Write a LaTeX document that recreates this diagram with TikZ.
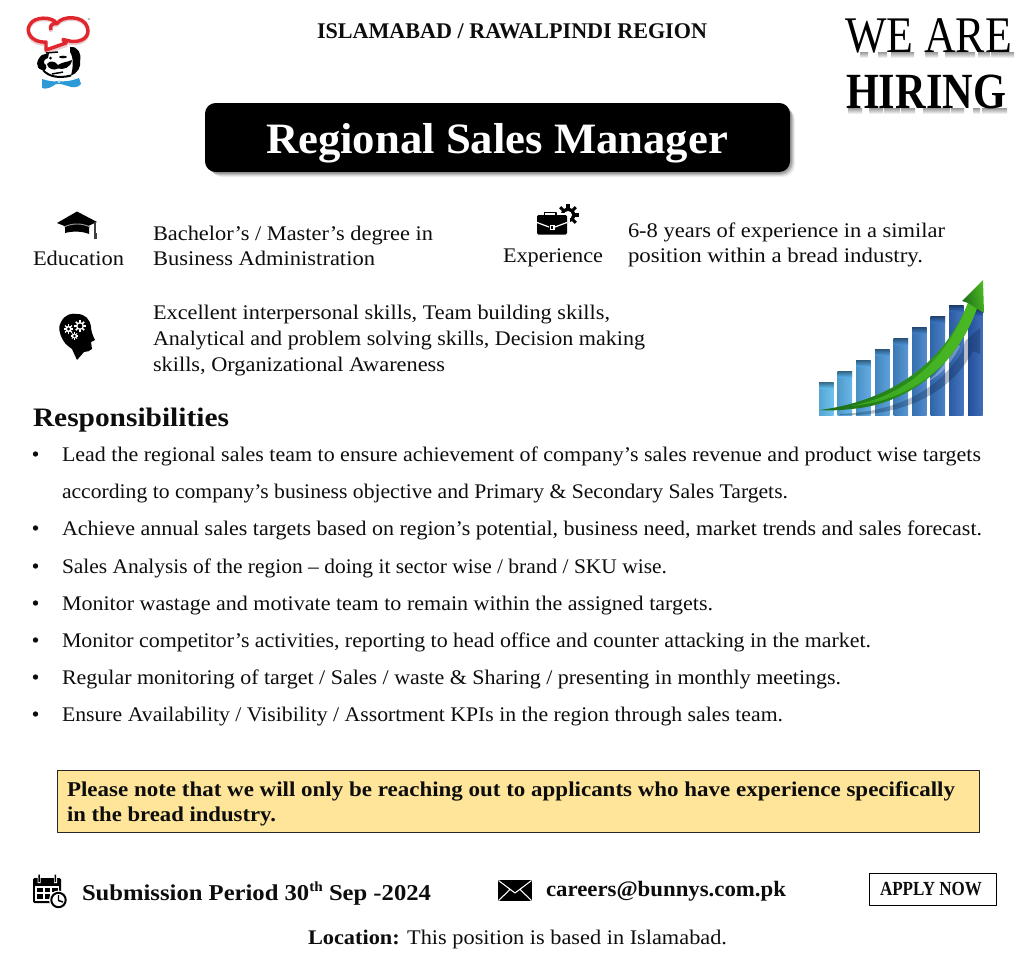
\documentclass[tikz,border=0pt]{standalone}
\usepackage{graphicx}
\usepackage{fontspec}
\setmainfont{Liberation Serif}
\newdimen\pxu \pxu=.75pt
\newcommand\fitw[2]{\resizebox{#1\pxu}{\height}{#2}}
\newcommand\pxfont[1]{\fontsize{#1}{#1}\selectfont}
\definecolor{noteFill}{HTML}{FFE599}
\definecolor{barL}{HTML}{5FBBEE}
\definecolor{barD}{HTML}{2A5BB0}
\definecolor{logoRed}{HTML}{E1272D}
\definecolor{logoBlue}{HTML}{2C9AD6}
\definecolor{inkBlack}{HTML}{0D0D0D}
\definecolor{arrowBright}{HTML}{4CB923}
\definecolor{arrowMid}{HTML}{35A521}
\definecolor{arrowDark}{HTML}{1D6B18}
\tikzset{
  txt/.style={anchor=base west,inner sep=0pt,outer sep=0pt,text=inkBlack},
  body/.style={txt,font=\pxfont{15.6}},
  boldline/.style={txt,font=\pxfont{15.8}\bfseries},
  softfoot/.style={top color=black!40,bottom color=white},
}
% gear: centre x,y; radius; colour
\newcommand\gearshape[4]{%
  \fill[#4] (#1,#2) circle ({#3*.66});
  \foreach \a in {0,45,...,315}{\draw[#4,line width={#3*.28*.75pt}] (#1,#2) -- ++(\a:#3);}
}
\begin{document}
\begin{tikzpicture}[x=.75pt,y=-.75pt,line join=round]
\useasboundingbox (0,0) rectangle (1035,960);
\fill[white] (0,0) rectangle (1035,960);

% ---------- logo
\draw[logoRed!70!black,opacity=.22,line width=2.6pt] (51,32) .. controls (49,27) and (53,25) .. (57,25)
  .. controls (62,17) and (84,16) .. (87.5,29) .. controls (90,39) and (82,44) .. (72,43.5) -- (63,41.5) -- (66,45.5) -- (46,52) -- (46,44)
  .. controls (31,45) and (25,33) .. (30,26) .. controls (34,18) and (52,17) .. (57,25);
\draw[logoRed,line width=2.6pt] (51,30) .. controls (49,25) and (53,23) .. (57,23.5)
  .. controls (62,15.5) and (84,15) .. (87.5,27.5) .. controls (90,37) and (82,42) .. (72,41.5) -- (63,39.5) -- (66,43) -- (46,50) -- (46,42)
  .. controls (31,43) and (25,31) .. (30,24.5) .. controls (34,16.5) and (52,16) .. (57,23.5);
% face
\fill[black] (70,47) .. controls (78,46) and (82,54) .. (80,61) .. controls (81,67) and (78,73) .. (71,75.5)
  .. controls (73,68) and (74,58) .. (70,52) .. controls (70,50) and (70,49) .. (70,47) -- cycle;
\fill[black] (42,55) .. controls (36,60) and (35,68) .. (42,70) .. controls (46,71) and (47,68) .. (46,65) .. controls (42,63) and (44,59) .. (48,58) -- (49,53) -- cycle;
\fill[black] (47,64) .. controls (50,60) and (55,61) .. (58,65) .. controls (62,62) and (68,62) .. (72,60) .. controls (71,68) and (63,70) .. (58,68.5) .. controls (54,71) and (48,69) .. (47,64) -- cycle;
\draw[black,line width=1.5pt] (43,70) .. controls (48,76) and (58,79) .. (71,75.5);
\draw[black,line width=1.1pt] (46,53) -- (58,52) (52,74) .. controls (56,73) and (60,73) .. (63,72);
\fill[black] (50.5,58) circle (1.5) (63,57) ellipse (4 and 1.3);
% bow
\fill[logoBlue] (42,79) .. controls (48,81) and (54,82) .. (58,81) .. controls (64,82) and (72,81) .. (79,78)
  -- (81,84) .. controls (78,88) and (72,88) .. (68,86) -- (61,84) -- (56,84) .. controls (52,87) and (46,90) .. (42,88) -- cycle;
\fill[white!70!logoBlue] (59,81.5) circle (1.6);
\fill[gray!70] (89,19) circle (1.2);

% ---------- header
\node[txt,font=\pxfont{16.8}\bfseries] (region) at (317,38) {\fitw{390}{ISLAMABAD / RAWALPINDI REGION}};
\foreach \a/\b in {860/868,878/887,891/914,925/938,945/960,958/975,978/990,991/1014}{
  \shade[softfoot] (\a,52) rectangle (\b,58);}
\node[txt,font=\pxfont{38.5},text=black] (weare) at (845,52) {\fitw{167}{WE ARE}};
\foreach \a/\b in {848/862,869/883,884/900,901/915,923/936,935/950,951/964,973/980,982/1007}{
  \shade[softfoot] (\a,108) rectangle (\b,114);}
\node[txt,font=\pxfont{38}\bfseries,text=black] (hiring) at (846,108) {\fitw{160}{HIRING}};

% ---------- title bar
\foreach \o/\p in {5/.06,4/.08,3/.12,2/.16}{
  \fill[black,opacity=\p,rounded corners=9pt] ({205+\o},{103+\o}) rectangle ({790+\o},{172+\o});}
\fill[black,rounded corners=8pt] (205,103) rectangle (790,172);
\node[txt,text=white,font=\pxfont{32.5}\bfseries] (title) at (266,153) {\fitw{462}{Regional Sales Manager}};

% ---------- graduation cap icon
\fill[black] (65,226) -- (65,233) .. controls (72,231) and (82,231) .. (89,234) -- (89,226) -- cycle;
\fill[black] (57,223) -- (77,211.5) -- (97,222) -- (77,231) -- cycle;
\draw[gray!80,line width=.7pt] (64,227) .. controls (72,223) and (82,223) .. (90,227);
\draw[black!75,line width=1.1pt] (95,222) -- (95,233);
\fill[black!75] (93.7,233) rectangle (96.5,239);
\node[body] (edu) at (33,265) {\fitw{91}{Education}};

% ---------- education text
\node[body] (edu1) at (153,240) {\fitw{280}{Bachelor’s / Master’s degree in}};
\node[body] (edu2) at (153,265) {\fitw{222}{Business Administration}};

% ---------- briefcase icon
\gearshape{568}{215}{11}{black}
\fill[white] (568,215) circle (4);
\fill[white] (535,213) rectangle (569.5,236);
\draw[black,line width=1.3pt] (544.5,215) -- (544.5,212.5) -- (556,212.5) -- (556,215);
\fill[black,rounded corners=1pt] (537,215) rectangle (567,234.5);
\draw[white,line width=.9pt] (537,222.5) -- (549,227) (555,227) -- (567,222.5);
\fill[white] (549.5,224.5) rectangle (554.5,230);
\fill[black] (551,226) rectangle (553,228.6);
\node[body] (exp) at (503,262) {\fitw{100}{Experience}};

% ---------- experience text
\node[body] (exp1) at (628,237) {\fitw{317}{6-8 years of experience in a similar}};
\node[body] (exp2) at (628,262) {\fitw{295}{position within a bread industry.}};

% ---------- head icon
\fill[black] (77,360) -- (72,349) .. controls (68,346) and (65,344) .. (63,340)
  .. controls (59,333) and (58,327) .. (61,322) .. controls (65,314) and (72,313) .. (77,314)
  .. controls (85,314) and (90,319) .. (91,327) .. controls (91,331) and (93,336) .. (95,340)
  -- (91,342) -- (92,349) .. controls (90,352) and (87,351) .. (84,352) -- cycle;
\gearshape{68.5}{329}{4.8}{white}\fill[black] (68.5,329) circle (1.7);
\gearshape{80}{326}{6}{white}\fill[black] (80,326) circle (2.4);
\gearshape{74.5}{336}{3.7}{white}\fill[black] (74.5,336) circle (1.3);

% ---------- skills text
\node[body] (sk1) at (153,319) {\fitw{457}{Excellent interpersonal skills, Team building skills,}};
\node[body] (sk2) at (153,345) {\fitw{492}{Analytical and problem solving skills, Decision making}};
\node[body] (sk3) at (153,371) {\fitw{292}{skills, Organizational Awareness}};

% ---------- bar chart
\foreach \i/\xa/\ytop in {0/819/382,1/837.5/371,2/856/360,3/875/349,4/893.5/338,5/912/327,6/930.5/316,7/949/305,8/968/309}{
  \pgfmathsetmacro\mixv{100-\i*12.5}
  \colorlet{barcol}{barL!\mixv!barD}
  \shade[left color=barcol!88!black,right color=barcol!90!white,shading angle=90] (\xa,\ytop) rectangle ({\xa+14.5},415);
  \shade[top color=barcol!50!black,bottom color=barcol,opacity=.85] (\xa,\ytop) rectangle ({\xa+14.5},{\ytop+6});
}
\fill[black!60!barD,opacity=.3] (840,414) .. controls (890,412) and (935,395) .. (962,352) -- (965,341) -- (980,328) -- (980,354) -- (973,351)
  .. controls (950,395) and (900,417) .. (840,415) -- cycle;
\fill[white,opacity=.3] (925,383) .. controls (940,372) and (950,358) .. (956,344) -- (960,346) .. controls (952,362) and (942,375) .. (925,383) -- cycle;
\shade[left color=arrowDark,right color=arrowMid] (820,410) .. controls (880,402) and (940,372) .. (968,303)
  -- (977,308) .. controls (955,370) and (905,402) .. (860,408) .. controls (845,410) and (830,411) .. (820,410) -- cycle;
\shade[left color=arrowMid,right color=arrowBright] (850,406) .. controls (900,397) and (945,365) .. (968,303)
  -- (977,308) .. controls (955,370) and (905,402) .. (850,406) -- cycle;
\shade[left color=arrowDark,right color=arrowBright,shading angle=100] (962,301) -- (983,280) -- (984,313) -- (976,308) -- (968,303) -- cycle;

% ---------- responsibilities
\node[txt,font=\pxfont{20}\bfseries] (resp) at (33,426) {\fitw{196}{Responsibilities}};
\foreach \yy/\nm/\ww/\tx in {
 461/r1/919/{Lead the regional sales team to ensure achievement of company’s sales revenue and product wise targets},
 498/r2/726/{according to company’s business objective and Primary \& Secondary Sales Targets.},
 535/r3/920/{Achieve annual sales targets based on region’s potential, business need, market trends and sales forecast.},
 573/r4/605/{Sales Analysis of the region – doing it sector wise / brand / SKU wise.},
 610/r5/651/{Monitor wastage and motivate team to remain within the assigned targets.},
 647/r6/809/{Monitor competitor’s activities, reporting to head office and counter attacking in the market.},
 684/r7/779/{Regular monitoring of target / Sales / waste \& Sharing / presenting in monthly meetings.},
 721/r8/721/{Ensure Availability / Visibility / Assortment KPIs in the region through sales team.}}{
  \node[body] (\nm) at (62,\yy) {\fitw{\ww}{\tx}};
}
\foreach \yy in {454,528,566,603,640,677,714}{\fill[inkBlack] (35.5,\yy) circle (2.7);}

% ---------- note box
\node[anchor=north west,inner sep=0pt,minimum width=922*.75pt,minimum height=62*.75pt,fill=noteFill,draw=black!85,line width=.75pt] (note) at (57,770) {};
\node[boldline] (n1) at (67,796) {\fitw{888}{Please note that we will only be reaching out to applicants who have experience specifically}};
\node[boldline] (n2) at (67,821) {\fitw{209}{in the bread industry.}};

% ---------- calendar icon
\fill[black,rounded corners=1pt] (33,878) rectangle (61,903);
\fill[white] (35,885.5) rectangle (59,901);
\foreach \cx in {37,44.5,52}{\foreach \cy in {887.5,894}{\fill[black] (\cx,\cy) rectangle ({\cx+5.5},{\cy+4.6});}}
\fill[white] (37.5,874) rectangle (40.5,883) (54,874) rectangle (57,883);
\fill[black] (38.3,874.5) rectangle (39.8,882) (54.7,874.5) rectangle (56.2,882);
\fill[white] (58.5,900) circle (9.5);
\draw[black,line width=1.5pt] (58.5,900) circle (7.2);
\draw[black,line width=1.1pt] (58.5,895) -- (58.5,900.5) -- (63,902);

% ---------- footer
\node[txt,font=\pxfont{17}\bfseries] (sub) at (82,900) {\fitw{349}{Submission Period 30\raisebox{.38em}{\pxfont{10.5}th} Sep -2024}};
\fill[black] (498,880) rectangle (532,901);
\draw[white,line width=.8pt] (498.5,880.5) -- (515,893) -- (531.5,880.5) (498.5,900.5) -- (510,889.5) (531.5,900.5) -- (520,889.5);
\node[txt,font=\pxfont{16.5}\bfseries] (mail) at (546,896) {\fitw{240}{careers@bunnys.com.pk}};
\node[anchor=north west,inner sep=0pt,minimum width=127*.75pt,minimum height=32*.75pt,draw=black,line width=.75pt] (applybox) at (869,873) {};
\node[txt,font=\pxfont{15}\bfseries] (apply) at (880,895) {\fitw{102}{APPLY NOW}};
\node[body] (loc) at (308,944) {\fitw{419}{\textbf{Location:} This position is based in Islamabad.}};
\end{tikzpicture}
\end{document}
